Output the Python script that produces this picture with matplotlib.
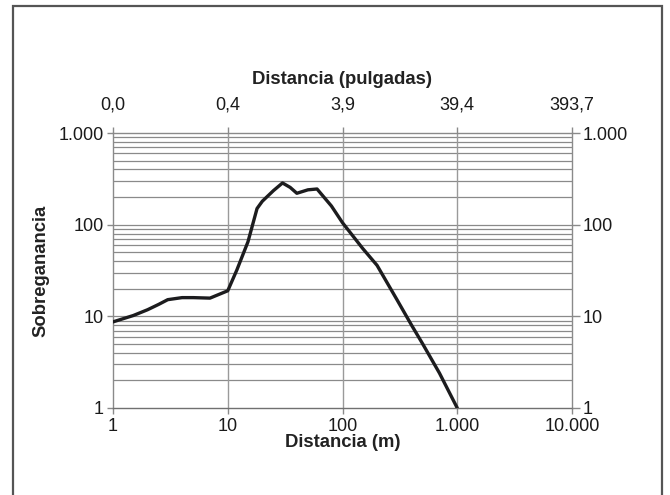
import matplotlib
matplotlib.use("Agg")
import matplotlib.pyplot as plt
from matplotlib.patches import Rectangle
from matplotlib.ticker import FixedLocator, NullLocator, NullFormatter

plt.rcParams['font.family'] = ['Liberation Sans', 'DejaVu Sans']

# Data
distance_m = [1, 1.5, 2, 2.5, 3, 4, 5, 7, 10, 12, 15, 18, 20, 25, 30, 35, 40, 50, 60, 80, 100, 150, 200, 300, 400, 500, 700, 1000]
overgain = [8.7, 10.2, 11.8, 13.5, 15.2, 16.0, 16.0, 15.8, 19, 32, 65, 150, 180, 235, 285, 255, 220, 240, 245, 160, 105, 55, 36, 15, 8, 5, 2.4, 1.0]

x_ticks = [1, 10, 100, 1000, 10000]
x_labels = ['1', '10', '100', '1.000', '10.000']
top_labels = ['0,0', '0,4', '3,9', '39,4', '393,7']
y_ticks = [1, 10, 100, 1000]
y_labels = ['1', '10', '100', '1.000']

W, H = 670, 495
fig = plt.figure(figsize=(W / 100, H / 100), dpi=100)
L, R, T, B = 113, 572, 133, 408
ax = fig.add_axes([L / W, 1 - B / H, (R - L) / W, (B - T) / H])

ax.set_xscale('log')
ax.set_yscale('log')
ax.set_xlim(1, 10000)
ax.set_ylim(1, 1000)

grid_c = '#8a8a8a'
# horizontal grid at every 1..9 x 10^k
for k in range(3):
    for m in range(1, 10):
        v = m * 10 ** k
        if v > 1:
            ax.axhline(v, color=grid_c, lw=0.9, zorder=1)
for v in x_ticks[1:-1]:
    ax.axvline(v, color='#9a9a9a', lw=1.0, zorder=1)

ax.plot(distance_m, overgain, color='#1c1c1e', lw=2.4, solid_joinstyle='round',
        solid_capstyle='round', zorder=3)

for s in ax.spines.values():
    s.set_color('#8a8a8a')
    s.set_linewidth(1.0)
ax.spines['bottom'].set_color('#707070')

tick_fs = 13
lab_fs = 13.3
ax.xaxis.set_major_locator(FixedLocator(x_ticks))
ax.set_xticklabels(x_labels, fontsize=tick_fs)
ax.yaxis.set_major_locator(FixedLocator(y_ticks))
ax.set_yticklabels(y_labels, fontsize=tick_fs)
ax.xaxis.set_minor_locator(NullLocator())
ax.yaxis.set_minor_locator(NullLocator())
ax.xaxis.set_minor_formatter(NullFormatter())
ax.yaxis.set_minor_formatter(NullFormatter())
ax.tick_params(axis='both', which='major', direction='out', length=4.5, width=1,
               color='#8a8a8a', pad=2, labelcolor='#1a1a1a')
ax.tick_params(axis='x', pad=2.5)

ax.set_xlabel('Distancia (m)', fontsize=lab_fs, fontweight='bold', labelpad=-0.5, color='#222')
ax.set_ylabel('Sobreganancia', fontsize=lab_fs, fontweight='bold', labelpad=7, color='#222')

# right axis
axr = ax.twinx()
axr.set_yscale('log')
axr.set_ylim(1, 1000)
axr.yaxis.set_major_locator(FixedLocator(y_ticks))
axr.set_yticklabels(y_labels, fontsize=tick_fs)
axr.yaxis.set_minor_locator(NullLocator())
axr.yaxis.set_minor_formatter(NullFormatter())
axr.tick_params(axis='y', direction='out', length=6, width=1, color='#8a8a8a', pad=2,
                labelcolor='#1a1a1a')
for s in axr.spines.values():
    s.set_visible(False)

# top axis
axt = ax.twiny()
axt.set_xscale('log')
axt.set_xlim(1, 10000)
axt.xaxis.set_major_locator(FixedLocator(x_ticks))
axt.set_xticklabels(top_labels, fontsize=tick_fs)
axt.xaxis.set_minor_locator(NullLocator())
axt.xaxis.set_minor_formatter(NullFormatter())
axt.tick_params(axis='x', direction='out', length=4, width=1, color='#8a8a8a', pad=10,
                labelcolor='#1a1a1a')
for s in axt.spines.values():
    s.set_visible(False)
axt.set_xlabel('Distancia (pulgadas)', fontsize=lab_fs, fontweight='bold', labelpad=9, color='#222')

# outer frame
fig.add_artist(Rectangle((13 / W, -0.05), (662 - 13) / W, 1 - 6 / H + 0.05,
                         transform=fig.transFigure, fill=False,
                         edgecolor='#555555', lw=1.6))

fig.savefig('out.png', dpi=100)
